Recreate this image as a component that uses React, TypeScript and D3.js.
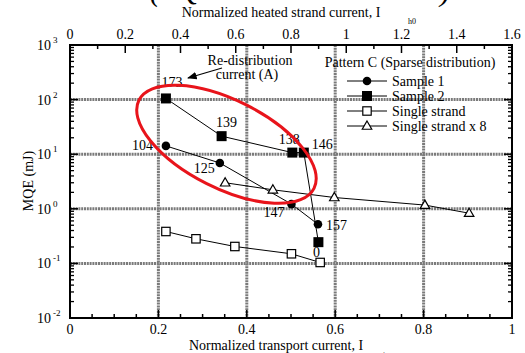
import React from "react";
import * as d3 from "d3";

const W = 525, H = 353;
const M = { left: 70, right: 13, top: 45, bottom: 35 };

// Data (x = normalized transport current, y = MQE in mJ)
const sample1X = [0.217, 0.339, 0.501, 0.561];
const sample1Y = [14.2, 6.9, 1.22, 0.52];
const sample1Labels = ["104", "125", "147", "157"];

const sample2X = [0.217, 0.343, 0.503, 0.529, 0.562];
const sample2Y = [105, 21.4, 10.7, 10.7, 0.245];
const sample2Labels = ["173", "139", "138", "146", "0"];

const singleX = [0.217, 0.285, 0.373, 0.501, 0.566];
const singleY = [0.384, 0.282, 0.204, 0.15, 0.104];

const single8X = [0.351, 0.459, 0.598, 0.803, 0.903];
const single8Y = [3.0, 2.23, 1.61, 1.17, 0.83];

const bottomTicks = [0, 0.2, 0.4, 0.6, 0.8, 1];
const topTicks = [0, 0.2, 0.4, 0.6, 0.8, 1, 1.2, 1.4, 1.6];
const yExponents = [3, 2, 1, 0, -1, -2];
const legendNames = ["Sample 1", "Sample 2", "Single strand", "Single strand x 8"];

// label offsets (pixels) for point annotations
const s1LabelOff: [number, number, string][] = [
  [-13, 4, "end"], [-5, 10, "end"], [-7, 13, "end"], [8, 6, "start"],
];
const s2LabelOff: [number, number, string][] = [
  [6, -11, "middle"], [5, -9, "middle"], [-3, -9, "middle"], [8, -4, "start"], [-2, 15, "middle"],
];

const FONT = "Liberation Serif";

function Marker({ type, x, y }: { type: string; x: number; y: number }) {
  if (type === "circle") return <circle cx={x} cy={y} r={4.3} fill="#000" />;
  if (type === "square") return <rect x={x - 5} y={y - 5} width={10} height={10} fill="#000" />;
  if (type === "osquare")
    return <rect x={x - 4.2} y={y - 4.2} width={8.4} height={8.4} fill="#fff" stroke="#000" strokeWidth={1.2} />;
  const s = 5;
  return (
    <path
      d={`M${x},${y - s}L${x + s * 0.95},${y + s * 0.65}L${x - s * 0.95},${y + s * 0.65}Z`}
      fill="#fff"
      stroke="#000"
      strokeWidth={1.2}
    />
  );
}

export default function App() {
  const x = d3.scaleLinear().domain([0, 1]).range([M.left, W - M.right]);
  const xTop = d3.scaleLinear().domain([0, 1.6]).range([M.left, W - M.right]);
  const y = d3.scaleLog().domain([0.01, 1000]).range([H - M.bottom, M.top]);
  const x0 = M.left, x1 = W - M.right, y0 = M.top, y1 = H - M.bottom;

  const line = d3
    .line<[number, number]>()
    .x((d) => x(d[0]))
    .y((d) => y(d[1]));

  const zip = (a: number[], b: number[]) => a.map((v, i) => [v, b[i]] as [number, number]);
  const series = [
    { pts: zip(sample1X, sample1Y), type: "circle" },
    { pts: zip(sample2X, sample2Y), type: "square" },
    { pts: zip(singleX, singleY), type: "osquare" },
    { pts: zip(single8X, single8Y), type: "tri" },
  ];

  const minorY: number[] = [];
  for (let e = -2; e < 3; e++) for (let k = 2; k <= 9; k++) minorY.push(k * Math.pow(10, e));
  const minorBottom = d3.range(0, 1.0001, 0.05);
  const minorTop = d3.range(0, 1.6001, 0.1);

  const gridStyle = { stroke: "#7a7a7a", strokeWidth: 3, strokeDasharray: "2 0.8" };

  const ex = x(0.354), ey = y(15.2);

  return (
    <svg
      width={W}
      height={H}
      style={{ position: "absolute", left: 0, top: 0, background: "#fff", fontFamily: FONT }}
    >
      <rect width={W} height={H} fill="#fff" />
      {/* large heading cut off at top edge (as in the reference) */}
      <text x={150} y={1} fontSize={30} fontStyle="italic" fill="#000">(</text>
      <text x={178} y={0} fontSize={30} fontStyle="italic" fill="#000">Q</text>
      <text x={440} y={1} fontSize={30} fontStyle="italic" fill="#000">)</text>

      {[0.2, 0.4, 0.6, 0.8].map((v) => (
        <line key={"gx" + v} x1={x(v)} x2={x(v)} y1={y0} y2={y1} {...gridStyle} />
      ))}
      {[2, 1, 0, -1].map((e) => (
        <line key={"gy" + e} x1={x0} x2={x1} y1={y(Math.pow(10, e))} y2={y(Math.pow(10, e))} {...gridStyle} />
      ))}

      <rect x={x0} y={y0} width={x1 - x0} height={y1 - y0} fill="none" stroke="#000" strokeWidth={2} />

      {minorBottom.map((v, i) => {
        const major = i % 4 === 0;
        return <line key={"bt" + i} x1={x(v)} x2={x(v)} y1={y1} y2={y1 - (major ? 8 : 4)} stroke="#000" strokeWidth={1.5} />;
      })}
      {minorTop.map((v, i) => {
        const major = i % 2 === 0;
        return <line key={"tt" + i} x1={xTop(v)} x2={xTop(v)} y1={y0} y2={y0 + (major ? 8 : 4)} stroke="#000" strokeWidth={1.5} />;
      })}
      {yExponents.map((e) => (
        <g key={"ym" + e}>
          <line x1={x0} x2={x0 + 8} y1={y(Math.pow(10, e))} y2={y(Math.pow(10, e))} stroke="#000" strokeWidth={1.5} />
          <line x1={x1} x2={x1 - 8} y1={y(Math.pow(10, e))} y2={y(Math.pow(10, e))} stroke="#000" strokeWidth={1.5} />
        </g>
      ))}
      {minorY.map((v, i) => (
        <g key={"yn" + i}>
          <line x1={x0} x2={x0 + 4} y1={y(v)} y2={y(v)} stroke="#000" strokeWidth={1.3} />
          <line x1={x1} x2={x1 - 4} y1={y(v)} y2={y(v)} stroke="#000" strokeWidth={1.3} />
        </g>
      ))}

      {bottomTicks.map((v) => (
        <text key={"bl" + v} x={x(v)} y={334} fontSize={14} textAnchor="middle">{String(v)}</text>
      ))}
      {topTicks.map((v) => (
        <text key={"tl" + v} x={xTop(v)} y={39} fontSize={14} textAnchor="middle">{String(v)}</text>
      ))}
      {yExponents.map((e) => (
        <g key={"yl" + e}>
          <text x={51} y={y(Math.pow(10, e)) + 5} fontSize={14} textAnchor="end">10</text>
          <text x={53} y={y(Math.pow(10, e)) - 2} fontSize={9}>{String(e)}</text>
        </g>
      ))}

      <text x={276} y={350} fontSize={14} textAnchor="middle">Normalized transport current, I</text>
      <text x={383} y={357} fontSize={8}>t</text>
      <text x={281} y={17} fontSize={14} textAnchor="middle">Normalized heated strand current, I</text>
      <text x={408} y={24} fontSize={8}>h0</text>
      <text transform={`translate(33,181) rotate(-90)`} fontSize={14} textAnchor="middle">MQE (mJ)</text>

      {series.map((s, si) => (
        <g key={"s" + si}>
          <path d={line(s.pts) || ""} fill="none" stroke="#000" strokeWidth={1} />
          {s.pts.map((p, i) => (
            <Marker key={i} type={s.type} x={x(p[0])} y={y(p[1])} />
          ))}
        </g>
      ))}

      {sample1X.map((v, i) => (
        <text key={"l1" + i} x={x(v) + s1LabelOff[i][0]} y={y(sample1Y[i]) + s1LabelOff[i][1]} fontSize={14} textAnchor={s1LabelOff[i][2] as any}>
          {sample1Labels[i]}
        </text>
      ))}
      {sample2X.map((v, i) => (
        <text key={"l2" + i} x={x(v) + s2LabelOff[i][0]} y={y(sample2Y[i]) + s2LabelOff[i][1]} fontSize={14} textAnchor={s2LabelOff[i][2] as any}>
          {sample2Labels[i]}
        </text>
      ))}

      <ellipse cx={ex} cy={ey} rx={98} ry={44} transform={`rotate(26.7 ${ex} ${ey})`} fill="none" stroke="#e8141b" strokeWidth={3} />

      <text x={250} y={65} fontSize={14} textAnchor="middle">Re-distribution</text>
      <text x={247} y={79} fontSize={14} textAnchor="middle">current (A)</text>
      <defs>
        <marker id="arr" viewBox="0 0 10 10" refX={9} refY={5} markerWidth={8} markerHeight={8} orient="auto">
          <path d="M0,1L10,5L0,9Z" fill="#000" />
        </marker>
      </defs>
      <line x1={222} y1={68} x2={188} y2={78} stroke="#000" strokeWidth={1.2} markerEnd="url(#arr)" />

      <text x={410} y={67} fontSize={14} textAnchor="middle">Pattern C (Sparse distribution)</text>
      {legendNames.map((n, i) => {
        const ly = 81 + i * 15;
        const t = ["circle", "square", "osquare", "tri"][i];
        return (
          <g key={"lg" + i}>
            <line x1={347} x2={387} y1={ly} y2={ly} stroke="#000" strokeWidth={1} />
            <Marker type={t} x={367} y={ly} />
            <text x={392} y={ly + 5} fontSize={14}>{n}</text>
          </g>
        );
      })}
    </svg>
  );
}
